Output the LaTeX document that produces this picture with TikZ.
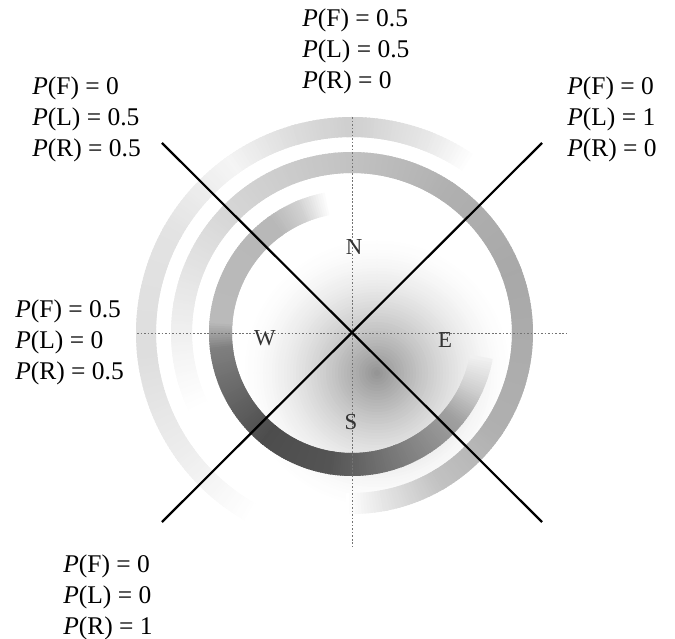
\documentclass[tikz,border=0pt]{standalone}
\usepackage{fontspec}
\setmainfont{Liberation Serif}
\usepackage{tikz}

\newcommand{\probfont}{\fontsize{14.5}{17.6}\selectfont}
% one blurred band: radius, width, list of start/end angle and start/end darkness
\newcommand{\ringband}[3]{%
  \foreach \ra/\rb/\da/\db in {#3} {
    \foreach \ang in {\ra,...,\rb} {
      \pgfmathsetmacro{\dk}{\da+(\db-(\da))*(\ang-(\ra))/(\rb-(\ra))}
      \draw[line width=#2, black!\dk] (\ang:#1) arc[start angle=\ang, end angle=\ang+1.6, radius=#1];
    }
  }%
}

\tikzset{
  probtext/.style={anchor=west, inner sep=0pt, align=left, font=\probfont},
  compassletter/.style={inner sep=0pt, font=\fontsize{13}{13}\selectfont, text=black!80},
  axisline/.style={black!55, line width=0.5pt, dash pattern=on 1pt off 1pt},
  cutline/.style={line width=1.25pt},
}

\begin{document}
\begin{tikzpicture}[x=0.2mm, y=0.2mm]
    \useasboundingbox (-352,-306) rectangle (323,333);

    % soft shadow in the lower right
    \coordinate (blob) at (25,-40);
    \foreach \r in {138,135,...,3} {
        \pgfmathsetmacro{\dk}{43*(1-\r/138)^1.6}
        \fill[black!\dk] (blob) circle (\r);
    }

    % ghost bands, outer to inner
    \ringband{206}{4mm}{55/68/0/9, 68/90/9/19, 90/105/19/14, 105/125/14/4, 125/150/4/11, 150/185/11/13, 185/215/13/7, 215/240/7/0}
    \ringband{170.5}{4.2mm}{-92/-80/0/10, -80/-60/10/24, -60/-35/24/31, -35/20/31/34, 20/55/34/31, 55/95/31/23, 95/135/23/16, 135/170/16/8, 170/205/8/0}
    \ringband{131.5}{4.6mm}{100/112/0/18, 112/125/18/28, 125/175/28/27, 175/186/27/50, 186/230/50/70, 230/260/70/67, 260/290/67/52, 290/320/52/37, 320/335/37/18, 335/348/18/6}

    % compass axes
    \coordinate (o) at (0,0);
    \coordinate (axw) at (-215,0);
    \coordinate (axe) at (215,0);
    \coordinate (axn) at (0,216);
    \coordinate (axs) at (0,-214);
    \draw[axisline] (axw) -- (axe);
    \draw[axisline] (axn) -- (axs);

    % diagonal boundaries
    \coordinate (nw) at (-190,190);
    \coordinate (ne) at (190,190);
    \coordinate (sw) at (-190,-189);
    \coordinate (se) at (190,-189);
    \draw[cutline] (nw) -- (se);
    \draw[cutline] (ne) -- (sw);

    \node[compassletter] (north) at (2,86) {N};
    \node[compassletter] (west) at (-87,-5) {W};
    \node[compassletter] (east) at (93,-7) {E};
    \node[compassletter] (south) at (-1,-89) {S};

    % probabilities per sector
    \node[probtext] (probn) at (-50,282) {\textit{P}(F) = 0.5\\\textit{P}(L) = 0.5\\\textit{P}(R) = 0};
    \node[probtext] (probnw) at (-320,214) {\textit{P}(F) = 0\\\textit{P}(L) = 0.5\\\textit{P}(R) = 0.5};
    \node[probtext] (probne) at (215,214) {\textit{P}(F) = 0\\\textit{P}(L) = 1\\\textit{P}(R) = 0};
    \node[probtext] (probw) at (-337,-9) {\textit{P}(F) = 0.5\\\textit{P}(L) = 0\\\textit{P}(R) = 0.5};
    \node[probtext] (probsw) at (-289,-264) {\textit{P}(F) = 0\\\textit{P}(L) = 0\\\textit{P}(R) = 1};
\end{tikzpicture}
\end{document}
